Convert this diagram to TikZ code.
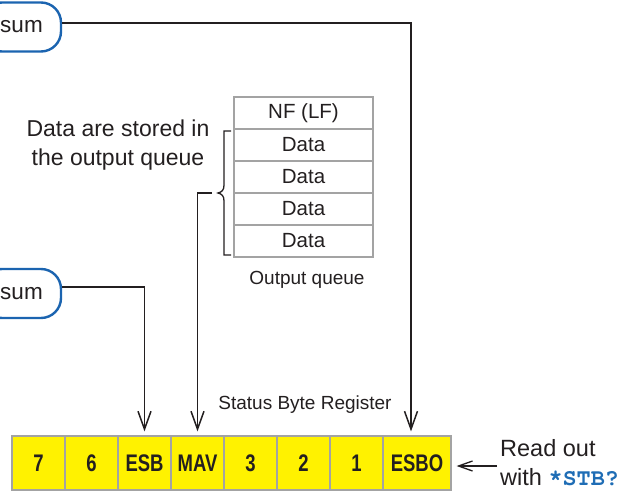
\documentclass[tikz,border=0pt]{standalone}
\usepackage{fontspec}
\setmainfont{Liberation Sans}
\newfontfamily\regfont[FakeStretch=0.77]{Liberation Sans}
\newfontfamily\cmdfont{TeX Gyre Cursor}
\usetikzlibrary{arrows.meta}
\definecolor{ink}{HTML}{231F20}
\definecolor{boxblue}{HTML}{1B64B0}
\definecolor{regyellow}{HTML}{FFF200}
\definecolor{cellgray}{HTML}{A3A3A3}
\definecolor{cmdblue}{HTML}{1F6DB5}
\begin{document}
\begin{tikzpicture}[x=1pt,y=-1pt,
  every node/.style={text=ink, inner sep=0pt},
  pill/.style={draw=boxblue, line width=2.4pt, rounded corners=20pt, fill=white,
    minimum height=49pt, minimum width=79pt, font=\fontsize{22.5}{27}\selectfont},
  cell/.style={draw=cellgray, line width=1.2pt, fill=regyellow, minimum height=54pt,
    minimum width=53pt, font=\regfont\bfseries\fontsize{24}{28}\selectfont},
  qrow/.style={draw=cellgray, line width=1.5pt, fill=white, minimum height=32pt,
    minimum width=139pt, font=\fontsize{20.5}{24}\selectfont},
  conn/.style={draw=ink, line width=1.5pt},
  arr/.style={conn, -{Straight Barb[length=18pt,width=13pt]}},
  lbl/.style={font=\fontsize{19}{23}\selectfont}]

\useasboundingbox (0,0) rectangle (629,490);

% rounded source boxes
\node[pill] (sum1) at (21.5,27) {sum};
\node[pill] (sum2) at (21.5,293.5) {sum};

% output queue
\node[qrow] (q0) at (303.5,113) {NF (LF)};
\node[qrow] (q1) at (303.5,145) {Data};
\node[qrow] (q2) at (303.5,177) {Data};
\node[qrow] (q3) at (303.5,209) {Data};
\node[qrow] (q4) at (303.5,241) {Data};
\node[lbl] (oq) at (307,280) {Output queue};

% description and brace
\node[align=center, font=\fontsize{23}{29}\selectfont] (desc) at (118,145.5)
  {Data are stored in\\the output queue};
\draw[conn, line width=1.3pt] (231,131) -- (224,131) -- (224,185)
  .. controls (224,190) and (222,192) .. (218,193)
  .. controls (222,194) and (224,196) .. (224,201) -- (224,255) -- (231,255);

% status byte register
\node[cell] (c7)   at (38.5,463)  {7};
\node[cell] (c6)   at (91.5,463)  {6};
\node[cell] (esb)  at (144.5,463) {ESB};
\node[cell] (mav)  at (197.5,463) {MAV};
\node[cell] (c3)   at (250.5,463) {3};
\node[cell] (c2)   at (303.5,463) {2};
\node[cell] (c1)   at (356.5,463) {1};
\node[cell, minimum width=68pt] (esbo) at (417,463) {ESBO};
\node[lbl] (sbr) at (305,405) {Status Byte Register};

% connectors
\coordinate (t1) at (411,23);
\coordinate (t2) at (144.5,287);
\coordinate (m0) at (212,193);
\draw[arr, shorten >=4pt] (sum1.east |- t1) -- (t1) -- (t1 |- esbo.north);
\draw[arr, shorten >=4pt] (sum2.east |- t2) -- (t2) -- (t2 |- esb.north);
\draw[arr, shorten >=4pt] (m0) -| (mav.north);

% read out
\node[anchor=base west, font=\fontsize{23.5}{29}\selectfont] (ro1) at (500,456) {Read out};
\node[anchor=base west, font=\fontsize{23.5}{29}\selectfont] (ro2) at (500,485)
  {with {\cmdfont\bfseries\color{cmdblue}*STB?}};
\coordinate (ra) at (497,466);
\draw[conn, line width=1.3pt, -{Straight Barb[length=14pt,width=10pt]}, shorten >=5pt]
  (ra) -- (ra -| esbo.east);
\end{tikzpicture}
\end{document}
